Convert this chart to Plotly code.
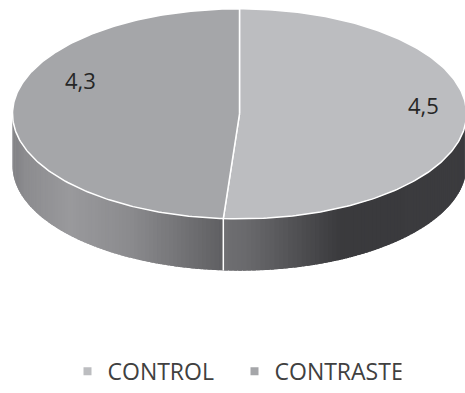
import numpy as np
import plotly.graph_objects as go

# ---- data ----
categories = ["CONTROL", "CONTRASTE"]
values = [4.5, 4.3]
labels = ["4,5", "4,3"]

# ---- style ----
top_colors = ["#bcbdc0", "#a5a6a9"]
W, H = 465, 393
cx, cy, rx, ry, depth = 239.5, 116.5, 227, 107.5, 53
FONT = "Open Sans"

right_stops = ([224, 250, 340, 466], [0x6f, 0x68, 0x3a, 0x3b])
left_stops = ([12, 25, 70, 130, 224], [0x80, 0x8c, 0x99, 0x8b, 0x5f])


def pt(theta, dz=0.0):
    return cx + rx * np.sin(theta), cy - ry * np.cos(theta) + dz


total = sum(values)
bounds = np.concatenate([[0], np.cumsum(values) / total]) * 2 * np.pi

fig = go.Figure()

# --- side walls (front half only: theta in [pi/2, 3pi/2]) ---
for i in range(len(values)):
    a = max(bounds[i], np.pi / 2)
    b = min(bounds[i + 1], 3 * np.pi / 2)
    if b <= a:
        continue
    stops = right_stops if i == 0 else left_stops
    n = 80
    ts = np.linspace(a, b, n + 1)
    step = ts[1] - ts[0]
    for k in range(n):
        t0 = ts[k]
        t1 = min(ts[k + 1] + 0.8 * step, b)
        sub = np.linspace(t0, t1, 4)
        xt, yt = pt(sub)
        xm = float(np.mean(pt(np.array([ts[k], ts[k + 1]]))[0]))
        g = int(round(np.interp(xm, stops[0], stops[1])))
        col = f"rgb({g},{g},{min(g + 3, 255)})"
        xs = np.concatenate([xt, xt[::-1], xt[:1]])
        ys = np.concatenate([yt, (yt + depth)[::-1], yt[:1]])
        fig.add_trace(go.Scatter(
            x=xs, y=ys,
            mode="lines", fill="toself", fillcolor=col,
            line=dict(color=col, width=0),
            hoverinfo="skip", showlegend=False))

# divider on side
for i in range(1, len(values)):
    t = bounds[i]
    if np.pi / 2 < t < 3 * np.pi / 2:
        x0, y0 = pt(t)
        fig.add_trace(go.Scatter(
            x=[x0, x0], y=[y0, y0 + depth], mode="lines",
            line=dict(color="white", width=1.5),
            hoverinfo="skip", showlegend=False))

# --- top face slices ---
for i in range(len(values)):
    ts = np.linspace(bounds[i], bounds[i + 1], 200)
    xs, ys = pt(ts)
    xs = np.concatenate([[cx], xs, [cx]])
    ys = np.concatenate([[cy], ys, [cy]])
    fig.add_trace(go.Scatter(
        x=xs, y=ys, mode="lines", fill="toself", fillcolor=top_colors[i],
        line=dict(color="white", width=1.5),
        hoverinfo="skip", showlegend=False))

# --- data labels ---
label_shift = [(0, 12), (25, 31)]
for i in range(len(values)):
    mid = (bounds[i] + bounds[i + 1]) / 2
    lx = cx + 0.81 * rx * np.sin(mid)
    ly = cy - 0.81 * ry * np.cos(mid)
    fig.add_annotation(x=lx, y=ly, text=labels[i], showarrow=False,
                       xshift=label_shift[i][0], yshift=label_shift[i][1],
                       font=dict(family=FONT, size=22, color="#262626"))

# --- legend entries ---
for i, name in enumerate(categories):
    fig.add_trace(go.Scatter(
        x=[None], y=[None], mode="markers", name=name,
        marker=dict(symbol="square", size=8, color=top_colors[i])))

fig.update_layout(
    width=W, height=H,
    margin=dict(l=0, r=0, t=0, b=0),
    paper_bgcolor="white", plot_bgcolor="white",
    xaxis=dict(range=[0, W], visible=False, fixedrange=True),
    yaxis=dict(range=[H, 0], visible=False, fixedrange=True),
    showlegend=True,
    legend=dict(orientation="h", x=0.5 + 2 / W, xanchor="center",
                y=1 - 380 / H, yanchor="middle",
                font=dict(family=FONT, size=23, color="#404040"),
                entrywidth=122, entrywidthmode="pixels",
                bgcolor="rgba(0,0,0,0)"),
)

fig.write_html("out.html")
